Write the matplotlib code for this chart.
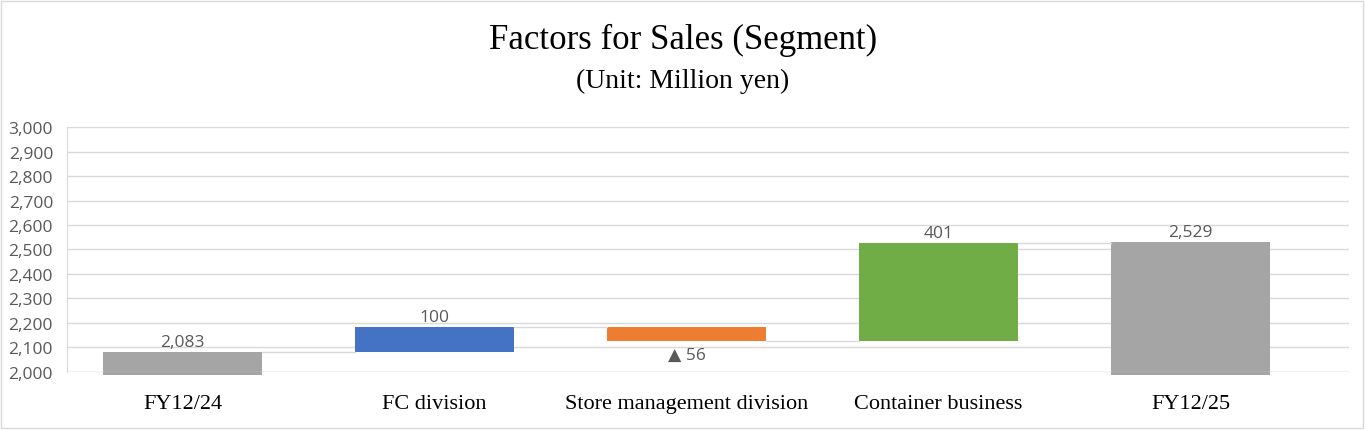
import matplotlib.pyplot as plt
from matplotlib.patches import Rectangle

# chart values (million yen)
categories = ['FY12/24', 'FC division', 'Store management division',
              'Container business', 'FY12/25']
changes = [2083, 100, -56, 401, 2529]
kinds = ['total', 'delta', 'delta', 'delta', 'total']
labels = ['2,083', '100', '\u25b2 56', '401', '2,529']
colors = ['#a5a5a5', '#4472c4', '#ed7d31', '#70ad47', '#a5a5a5']

fig = plt.figure(figsize=(13.66, 4.31), dpi=100)
ax = fig.add_axes([0.049, 0.1346, 0.9387, 0.5684])

# light frame around whole chart
fig.patches.append(Rectangle((0.001, 0.005), 0.997, 0.99, transform=fig.transFigure,
                             fill=False, edgecolor='#d9d9d9', linewidth=1))

ymin, ymax = 2000, 3000
width = 0.63
level = 0
bottoms, tops = [], []
for k, v in zip(kinds, changes):
    if k == 'total':
        b, t = ymin - 12, v
        level = v
    else:
        b, t = level, level + v
        level = t
    bottoms.append(b)
    tops.append(t)

xs = list(range(len(categories)))
for x, b, t, c in zip(xs, bottoms, tops, colors):
    ax.bar(x, t - b, bottom=b, width=width, color=c, zorder=2, clip_on=False)

# connectors between bars
for i in range(len(xs) - 1):
    lv = tops[i]
    ax.plot([xs[i] + width / 2, xs[i + 1] - width / 2], [lv, lv],
            color='#d9d9d9', linewidth=1, zorder=3)

# data labels
for x, b, t, lab, v in zip(xs, bottoms, tops, labels, changes):
    if v < 0:
        ax.text(x, min(b, t) - 24, lab, ha='center', va='top', fontsize=12.5,
                color='#595959', family=['Open Sans', 'DejaVu Sans'])
    else:
        ax.text(x, max(b, t) + 8, lab, ha='center', va='bottom', fontsize=12.5,
                color='#595959', family=['Open Sans', 'DejaVu Sans'])

ax.set_xlim(-0.46, 4.63)
ax.set_ylim(ymin, ymax)
ax.set_yticks(range(2000, 3001, 100))
ax.set_yticklabels([f'{v:,}' for v in range(2000, 3001, 100)],
                   fontsize=12.5, color='#595959', family='Open Sans')
ax.yaxis.grid(True, color='#d9d9d9', linewidth=1, zorder=0)
ax.set_axisbelow(True)
ax.axhline(ymin, color='#d9d9d9', linewidth=1, zorder=3)
ax.set_xticks(xs)
ax.set_xticklabels(categories, fontsize=16, family='Liberation Serif', color='black')
ax.tick_params(axis='both', length=0)
ax.tick_params(axis='x', pad=16)
ax.tick_params(axis='y', pad=10)
for s in ['top', 'right', 'bottom']:
    ax.spines[s].set_visible(False)
ax.spines['left'].set_color('#d9d9d9')

fig.text(0.5, 0.905, 'Factors for Sales (Segment)', ha='center', va='center',
         fontsize=25, family='Liberation Serif')
fig.text(0.5, 0.81, '(Unit: Million yen)', ha='center', va='center',
         fontsize=20, family='Liberation Serif')

fig.savefig('out.png', dpi=100)
